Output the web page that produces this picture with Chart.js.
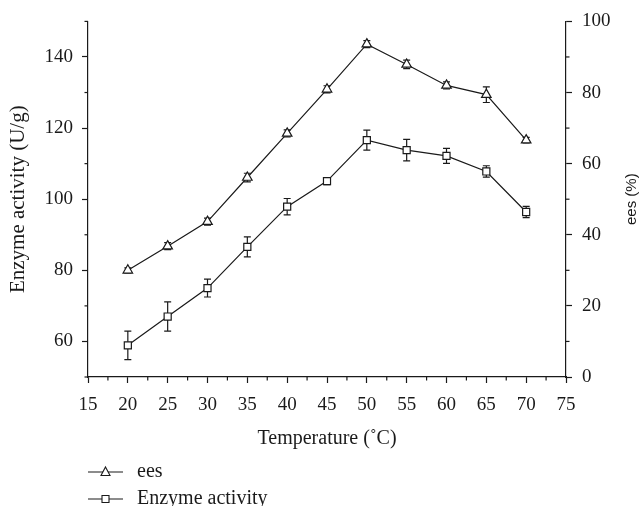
<!DOCTYPE html>
<html>
<head>
<meta charset="utf-8">
<style>
  html, body { margin: 0; padding: 0; background: #fff; }
  #wrap { width: 644px; height: 506px; position: relative; }
</style>
<script src="https://cdn.jsdelivr.net/npm/chart.js@4.4.1/dist/chart.umd.min.js"></script>
</head>
<body>
<div id="wrap"><canvas id="chart"></canvas></div>
<script>
// Data
const temperatures = [20, 25, 30, 35, 40, 45, 50, 55, 60, 65, 70];
const eesValues = [30, 36.8, 43.7, 56.1, 68.5, 80.9, 93.6, 87.9, 82, 79.4, 66.6];
const eesErrors = [0.7, 1, 1, 1.2, 1, 1, 1, 1.2, 1, 2.2, 0.8];
const enzymeValues = [58.9, 67, 75, 86.6, 97.9, 105.1, 116.6, 113.8, 112.2, 107.8, 96.4];
const enzymeErrors = [4, 4.1, 2.5, 2.8, 2.3, 1, 2.8, 3, 2.1, 1.6, 1.6];

const FONT = "'Liberation Serif', 'DejaVu Serif', serif";
const SANS = "'Liberation Sans', Arial, sans-serif";
const INK = '#1a1a1a';

// error bars, drawn under the markers
const errorBars = {
  id: 'errorBars',
  beforeDatasetsDraw(chart) {
    const ctx = chart.ctx;
    ctx.save();
    ctx.strokeStyle = INK;
    ctx.lineWidth = 1.2;
    chart.data.datasets.forEach(ds => {
      const yScale = chart.scales[ds.yAxisID];
      const xScale = chart.scales.x;
      ds.data.forEach((p, j) => {
        const e = ds.errors[j];
        const x = xScale.getPixelForValue(p.x);
        const y1 = yScale.getPixelForValue(p.y - e);
        const y2 = yScale.getPixelForValue(p.y + e);
        ctx.beginPath();
        ctx.moveTo(x, y1); ctx.lineTo(x, y2);
        ctx.moveTo(x - 3.5, y1); ctx.lineTo(x + 3.5, y1);
        ctx.moveTo(x - 3.5, y2); ctx.lineTo(x + 3.5, y2);
        ctx.stroke();
      });
    });
    ctx.restore();
  }
};

// short minor ticks, right axis title, legend
const extras = {
  id: 'extras',
  afterDraw(chart) {
    const ctx = chart.ctx;
    const area = chart.chartArea;
    ctx.save();
    ctx.strokeStyle = INK;
    ctx.lineWidth = 1.2;
    chart.scales.x.ticks.forEach(t => {
      if (t.value % 5 !== 0) {
        const x = chart.scales.x.getPixelForValue(t.value);
        ctx.beginPath(); ctx.moveTo(x, area.bottom); ctx.lineTo(x, area.bottom + 3.5); ctx.stroke();
      }
    });
    chart.scales.y.ticks.forEach(t => {
      if (t.value % 20 !== 0) {
        const y = chart.scales.y.getPixelForValue(t.value);
        ctx.beginPath(); ctx.moveTo(area.left, y); ctx.lineTo(area.left - 3.5, y); ctx.stroke();
      }
    });
    chart.scales.y2.ticks.forEach(t => {
      if (t.value % 20 !== 0) {
        const y = chart.scales.y2.getPixelForValue(t.value);
        ctx.beginPath(); ctx.moveTo(area.right, y); ctx.lineTo(area.right + 3.5, y); ctx.stroke();
      }
    });

    // right title reads bottom to top
    ctx.fillStyle = INK;
    ctx.font = '15px ' + SANS;
    ctx.textAlign = 'center';
    ctx.textBaseline = 'middle';
    ctx.translate(632, (area.top + area.bottom) / 2);
    ctx.rotate(-Math.PI / 2);
    ctx.fillText('ees (%)', 0, 0);
    ctx.restore();

    // legend, one row per series
    ctx.save();
    ctx.strokeStyle = INK;
    ctx.fillStyle = INK;
    ctx.lineWidth = 1.1;
    ctx.font = '20px ' + FONT;
    ctx.textBaseline = 'middle';
    ctx.textAlign = 'left';
    const rows = [472, 499];
    chart.data.datasets.forEach((ds, i) => {
      const y = rows[i];
      ctx.beginPath(); ctx.moveTo(88, y); ctx.lineTo(123, y); ctx.stroke();
      ctx.beginPath();
      if (ds.pointStyle === 'triangle') {
        ctx.moveTo(105.5, y - 5); ctx.lineTo(110, y + 3.5); ctx.lineTo(101, y + 3.5); ctx.closePath();
      } else {
        ctx.rect(102, y - 3.5, 7, 7);
      }
      ctx.fillStyle = '#fff'; ctx.fill(); ctx.stroke();
      ctx.fillStyle = INK;
      ctx.fillText(ds.label, 137, y);
    });
    ctx.restore();
  }
};

new Chart(document.getElementById('chart'), {
  type: 'line',
  data: {
    datasets: [
      {
        label: 'ees',
        yAxisID: 'y2',
        data: temperatures.map((t, i) => ({ x: t, y: eesValues[i] })),
        errors: eesErrors,
        borderColor: INK,
        borderWidth: 1.2,
        backgroundColor: '#fff',
        pointStyle: 'triangle',
        pointRadius: 5.5,
        pointBorderWidth: 1.2,
        pointBackgroundColor: '#fff',
        pointBorderColor: INK,
        tension: 0
      },
      {
        label: 'Enzyme activity',
        yAxisID: 'y',
        data: temperatures.map((t, i) => ({ x: t, y: enzymeValues[i] })),
        errors: enzymeErrors,
        borderColor: INK,
        borderWidth: 1.2,
        backgroundColor: '#fff',
        pointStyle: 'rect',
        pointRadius: 5,
        pointBorderWidth: 1.2,
        pointBackgroundColor: '#fff',
        pointBorderColor: INK,
        tension: 0
      }
    ]
  },
  options: {
    responsive: true,
    maintainAspectRatio: false,
    animation: false,
    layout: { padding: { top: 19, bottom: 56, left: 0, right: 0 } },
    plugins: { legend: { display: false }, tooltip: { enabled: false } },
    scales: {
      x: {
        type: 'linear',
        min: 15, max: 75,
        afterFit: s => { s.height = 73; },
        border: { color: INK, width: 1.2 },
        grid: {
          drawOnChartArea: false, tickLength: 6, tickWidth: 1.2,
          tickColor: c => (c.tick && c.tick.value % 5 === 0) ? INK : 'rgba(0,0,0,0)'
        },
        ticks: {
          stepSize: 2.5, autoSkip: false, maxRotation: 0, padding: 11,
          color: INK, font: { family: FONT, size: 19 },
          callback: v => (v % 5 === 0 ? v : '')
        },
        title: {
          display: true, text: 'Temperature (\u02DAC)', color: INK,
          font: { family: FONT, size: 20 }, padding: { top: 0, bottom: -1 }
        }
      },
      y: {
        position: 'left',
        min: 50, max: 150,
        afterFit: s => { s.width = 88; },
        border: { color: INK, width: 1.2 },
        grid: {
          drawOnChartArea: false, tickLength: 6, tickWidth: 1.2,
          tickColor: c => (c.tick && c.tick.value % 20 === 0) ? INK : 'rgba(0,0,0,0)'
        },
        ticks: {
          stepSize: 10, autoSkip: false, padding: 9,
          color: INK, font: { family: FONT, size: 19 },
          callback: v => (v % 20 === 0 && v >= 60 && v <= 140 ? v : '')
        },
        title: {
          display: true, text: 'Enzyme activity (U/g)', color: INK,
          font: { family: FONT, size: 21 }, padding: { top: 6, bottom: 0 }
        }
      },
      y2: {
        position: 'right',
        min: 0, max: 100,
        afterFit: s => { s.width = 78; },
        border: { color: INK, width: 1.2 },
        grid: {
          drawOnChartArea: false, tickLength: 6, tickWidth: 1.2,
          tickColor: c => (c.tick && c.tick.value % 20 === 0) ? INK : 'rgba(0,0,0,0)'
        },
        ticks: {
          stepSize: 10, autoSkip: false, padding: 10,
          color: INK, font: { family: FONT, size: 19 },
          callback: v => (v % 20 === 0 ? v : '')
        }
      }
    }
  },
  plugins: [errorBars, extras]
});
</script>
</body>
</html>
